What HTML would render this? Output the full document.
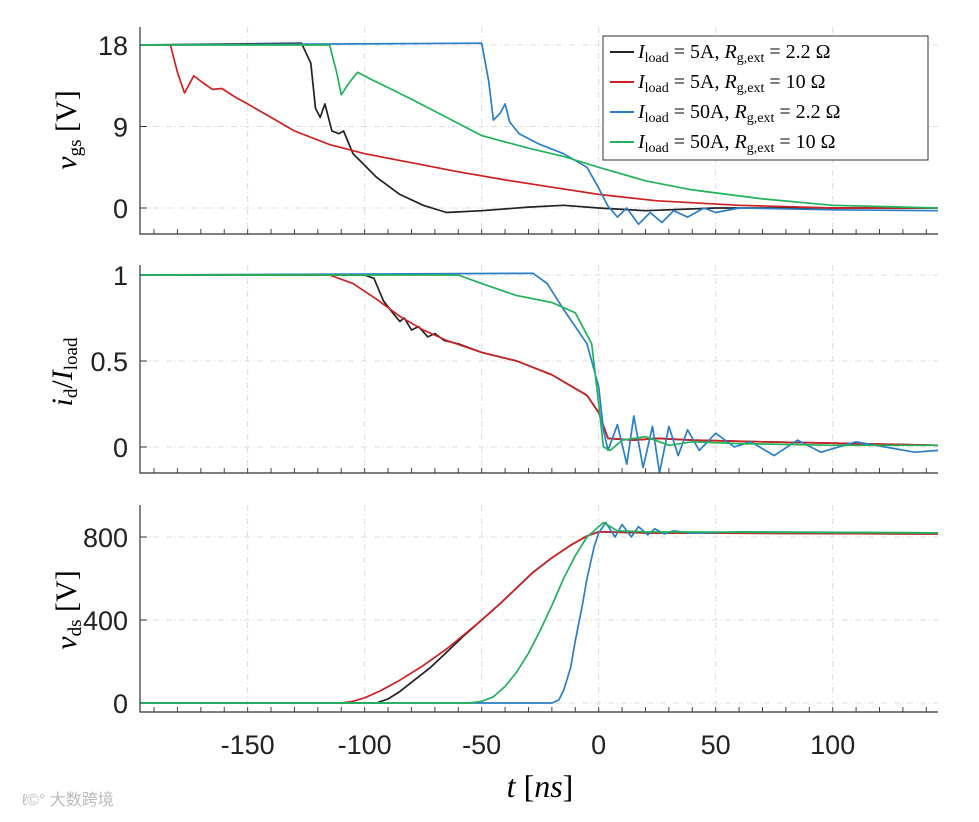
<!DOCTYPE html>
<html><head><meta charset="utf-8">
<style>
body{margin:0;background:#fff;}
.sans{font-family:"Liberation Sans",sans-serif;}
.serif{font-family:"Liberation Serif",serif;}
</style></head>
<body>
<svg id="chart" width="979" height="817" xmlns="http://www.w3.org/2000/svg">
<text x="22" y="805" font-size="16" fill="#bbb" style="font-family:'Liberation Sans','Noto Sans CJK SC',sans-serif">ℓ©° 大数跨境</text>
</svg>
<script>
const tLimits=[-196,145];
const xTicks=[-150,-100,-50,0,50,100];
const vgsTicks=[0,9,18];
const idTicks=[0,0.5,1];
const vdsTicks=[0,400,800];
const colors=['#222222','#cc2222','#2a7fc8','#22b35a'];
const seriesNames=['load-5a-2p2ohm','load-5a-10ohm','load-50a-2p2ohm','load-50a-10ohm'];
// vgs series [t, V]
const vgsBlack=[[-196,18],[-127,18.2],[-123,16],[-121,11],[-119,10],[-117,11.5],[-114,8.5],[-111,8.2],[-109,8.5],[-105,6],[-100,4.7],[-95,3.4],[-85,1.5],[-75,0.3],[-65,-0.5],[-50,-0.3],[-30,0.1],[-15,0.3],[0,0],[20,-0.3],[50,0],[145,0]];
const vgsRed=[[-196,18],[-183,18],[-180,15],[-177,12.7],[-173,14.6],[-169,13.8],[-165,13.1],[-161,13.2],[-155,12.2],[-150,11.5],[-140,10],[-130,8.5],[-115,7],[-100,6],[-80,5],[-60,4],[-40,3.1],[-20,2.3],[0,1.5],[25,0.8],[60,0.3],[100,0],[145,0]];
const vgsBlue=[[-196,18],[-50,18.2],[-47,14],[-45,9.7],[-42,10.5],[-40,11.5],[-38,9.5],[-34,8.2],[-25,7],[-15,6],[-5,4.5],[0,2.2],[4,0.2],[8,-1],[12,0],[17,-1.8],[22,-0.5],[27,-1.6],[32,-0.3],[38,-1],[45,0],[50,-0.5],[60,0],[100,-0.2],[145,-0.3]];
const vgsGreen=[[-196,18],[-115,18],[-112,15],[-110,12.5],[-107,13.7],[-103,15],[-98,14.3],[-90,13.3],[-80,12],[-65,10],[-50,8],[-30,6.6],[-15,5.7],[0,4.5],[20,3],[40,2],[70,1],[100,0.3],[145,0]];
// id/Iload series
const idBlack=[[-196,1],[-100,1],[-96,0.98],[-92,0.85],[-88,0.78],[-85,0.73],[-83,0.75],[-80,0.68],[-77,0.7],[-73,0.64],[-70,0.66],[-66,0.62],[-60,0.6],[-50,0.55],[-35,0.5],[-20,0.42],[-5,0.3],[0,0.2],[4,0.05],[15,0.04],[25,0.05],[40,0.04],[70,0.03],[110,0.02],[145,0.01]];
const idRed=[[-196,1],[-115,1],[-105,0.95],[-95,0.86],[-85,0.76],[-75,0.68],[-65,0.62],[-50,0.55],[-35,0.5],[-20,0.42],[-5,0.3],[0,0.2],[4,0.05],[15,0.04],[25,0.05],[40,0.04],[70,0.03],[110,0.02],[145,0.01]];
const idBlue=[[-196,1],[-28,1.01],[-22,0.95],[-15,0.8],[-10,0.7],[-5,0.6],[0,0.35],[2,0.1],[4,-0.02],[8,0.13],[12,-0.1],[15,0.18],[19,-0.12],[23,0.12],[26,-0.15],[30,0.12],[34,-0.05],[38,0.1],[43,-0.02],[50,0.08],[58,0],[65,0.03],[75,-0.05],[85,0.04],[95,-0.03],[110,0.03],[135,-0.03],[145,-0.02]];
const idGreen=[[-196,1],[-60,1],[-50,0.95],[-35,0.88],[-20,0.84],[-10,0.78],[-3,0.6],[0,0.25],[2,0],[5,-0.02],[10,0.04],[20,0.06],[30,0.01],[40,0.03],[60,0.02],[100,0.01],[145,0.01]];
// vds series [t, V]
const vdsBlack=[[-196,0],[-95,0],[-90,20],[-85,55],[-80,100],[-72,170],[-65,245],[-58,320],[-50,400],[-42,480],[-35,555],[-28,630],[-20,700],[-12,760],[-5,805],[0,825],[20,820],[145,815]];
const vdsRed=[[-196,0],[-110,0],[-105,8],[-100,25],[-93,60],[-85,110],[-75,180],[-65,260],[-58,325],[-50,400],[-42,480],[-35,555],[-28,630],[-20,700],[-12,760],[-5,805],[0,825],[20,820],[145,815]];
const vdsBlue=[[-196,0],[-20,0],[-17,15],[-15,60],[-12,170],[-10,300],[-7,470],[-5,600],[-2,750],[0,820],[3,870],[7,800],[10,860],[14,800],[17,850],[21,810],[24,840],[28,815],[32,830],[40,818],[60,825],[145,820]];
const vdsGreen=[[-196,0],[-55,0],[-50,8],[-45,30],[-40,80],[-35,150],[-30,240],[-25,350],[-20,470],[-15,600],[-10,710],[-5,800],[2,870],[8,830],[20,825],[145,820]];

const NS='http://www.w3.org/2000/svg';
const svg=document.getElementById('chart');
const X0=140,X1=938;
const xs=t=>X0+(t-tLimits[0])/(tLimits[1]-tLimits[0])*(X1-X0);
function el(tag,attrs,parent){const e=document.createElementNS(NS,tag);for(const k in attrs)e.setAttribute(k,attrs[k]);(parent||svg).appendChild(e);return e;}
const panels=[
 {key:'vgs',top:27,bot:234,v0:0,p0:208,v1:18,p1:45,ticks:vgsTicks,data:[vgsBlack,vgsRed,vgsBlue,vgsGreen]},
 {key:'id',top:265,bot:473,v0:0,p0:447,v1:1,p1:275,ticks:idTicks,data:[idBlack,idRed,idBlue,idGreen]},
 {key:'vds',top:505,bot:712,v0:0,p0:703,v1:800,p1:537,ticks:vdsTicks,data:[vdsBlack,vdsRed,vdsBlue,vdsGreen]}
];
panels.forEach((p,pi)=>{
 const ys=v=>p.p0+(v-p.v0)/(p.v1-p.v0)*(p.p1-p.p0);
 const g=el('g',{});
 
 
 xTicks.forEach(t=>{const l=el('line',{x1:xs(t),x2:xs(t),y1:p.top,y2:p.bot,stroke:'#ddd','stroke-dasharray':'6 3 1 3','stroke-width':1},g);
  
  });
 p.ticks.forEach(v=>{const l=el('line',{x1:X0,x2:X1,y1:ys(v),y2:ys(v),stroke:'#ddd','stroke-dasharray':'6 3 1 3','stroke-width':1},g);
  
  
  const tk=el('line',{x1:X0,x2:X0+7,y1:ys(v),y2:ys(v),stroke:'#333'},g);
  
  
  const tx=el('text',{x:X0-12,y:ys(v)+10,'font-size':27,'text-anchor':'end',fill:'#222',class:'sans'},g);tx.textContent=String(v);
  
  });
 for(let t=-190;t<=140;t+=10){const l=el('line',{x1:xs(t),x2:xs(t),y1:p.bot,y2:p.bot-5,stroke:'#444'},g);
  
  }
 p.data.forEach((d,si)=>{
  const path=el('path',{d:d.map((q,i)=>(i?'L':'M')+xs(q[0]).toFixed(1)+','+ys(q[1]).toFixed(1)).join(''),fill:'none',stroke:colors[si],'stroke-width':1.7,'stroke-linejoin':'round'},g);
  
  });
 const ax=el('path',{d:`M${X0},${p.top}V${p.bot}H${X1}`,fill:'none',stroke:'#333','stroke-width':1.2},g);
 
 
});
xTicks.forEach(t=>{const tx=el('text',{x:xs(t),y:754,'font-size':27,'text-anchor':'middle',fill:'#222',class:'sans'});tx.textContent=t<0?'-'+Math.abs(t):String(t);
 
 });
</script>
<svg class="serif" style="position:absolute;left:0;top:0" width="979" height="817" xmlns="http://www.w3.org/2000/svg">
<text class="serif" x="540" y="797" font-size="32" text-anchor="middle"><tspan font-style="italic">t</tspan> [<tspan font-style="italic">ns</tspan>]</text>
<text class="serif" transform="translate(76,130) rotate(-90)" font-size="30" text-anchor="middle"><tspan font-style="italic">v</tspan><tspan font-size="19" dy="5">gs</tspan><tspan dy="-5"> [V]</tspan></text>
<text class="serif" transform="translate(72,372) rotate(-90)" font-size="30" text-anchor="middle"><tspan font-style="italic">i</tspan><tspan font-size="19" dy="5">d</tspan><tspan dy="-5">/</tspan><tspan font-style="italic">I</tspan><tspan font-size="19" dy="5">load</tspan></text>
<text class="serif" transform="translate(76,610) rotate(-90)" font-size="30" text-anchor="middle"><tspan font-style="italic">v</tspan><tspan font-size="19" dy="5">ds</tspan><tspan dy="-5"> [V]</tspan></text>
<g class="serif" font-size="20">
<rect x="603" y="36" width="325" height="124" fill="#fff" stroke="#333" stroke-width="1"/>
<g><line x1="610" x2="634" y1="52" y2="52" stroke="#222" stroke-width="2"/><text class="serif" x="638" y="58"><tspan font-style="italic">I</tspan><tspan font-size="14" dy="4">load</tspan><tspan dy="-4"> = 5A, </tspan><tspan font-style="italic">R</tspan><tspan font-size="14" dy="4">g,ext</tspan><tspan dy="-4"> = 2.2 Ω</tspan></text></g>
<g><line x1="610" x2="634" y1="82" y2="82" stroke="#cc2222" stroke-width="2"/><text class="serif" x="638" y="88"><tspan font-style="italic">I</tspan><tspan font-size="14" dy="4">load</tspan><tspan dy="-4"> = 5A, </tspan><tspan font-style="italic">R</tspan><tspan font-size="14" dy="4">g,ext</tspan><tspan dy="-4"> = 10 Ω</tspan></text></g>
<g><line x1="610" x2="634" y1="112" y2="112" stroke="#2a7fc8" stroke-width="2"/><text class="serif" x="638" y="118"><tspan font-style="italic">I</tspan><tspan font-size="14" dy="4">load</tspan><tspan dy="-4"> = 50A, </tspan><tspan font-style="italic">R</tspan><tspan font-size="14" dy="4">g,ext</tspan><tspan dy="-4"> = 2.2 Ω</tspan></text></g>
<g><line x1="610" x2="634" y1="142" y2="142" stroke="#22b35a" stroke-width="2"/><text class="serif" x="638" y="148"><tspan font-style="italic">I</tspan><tspan font-size="14" dy="4">load</tspan><tspan dy="-4"> = 50A, </tspan><tspan font-style="italic">R</tspan><tspan font-size="14" dy="4">g,ext</tspan><tspan dy="-4"> = 10 Ω</tspan></text></g>
</g>
</svg>
</body></html>
